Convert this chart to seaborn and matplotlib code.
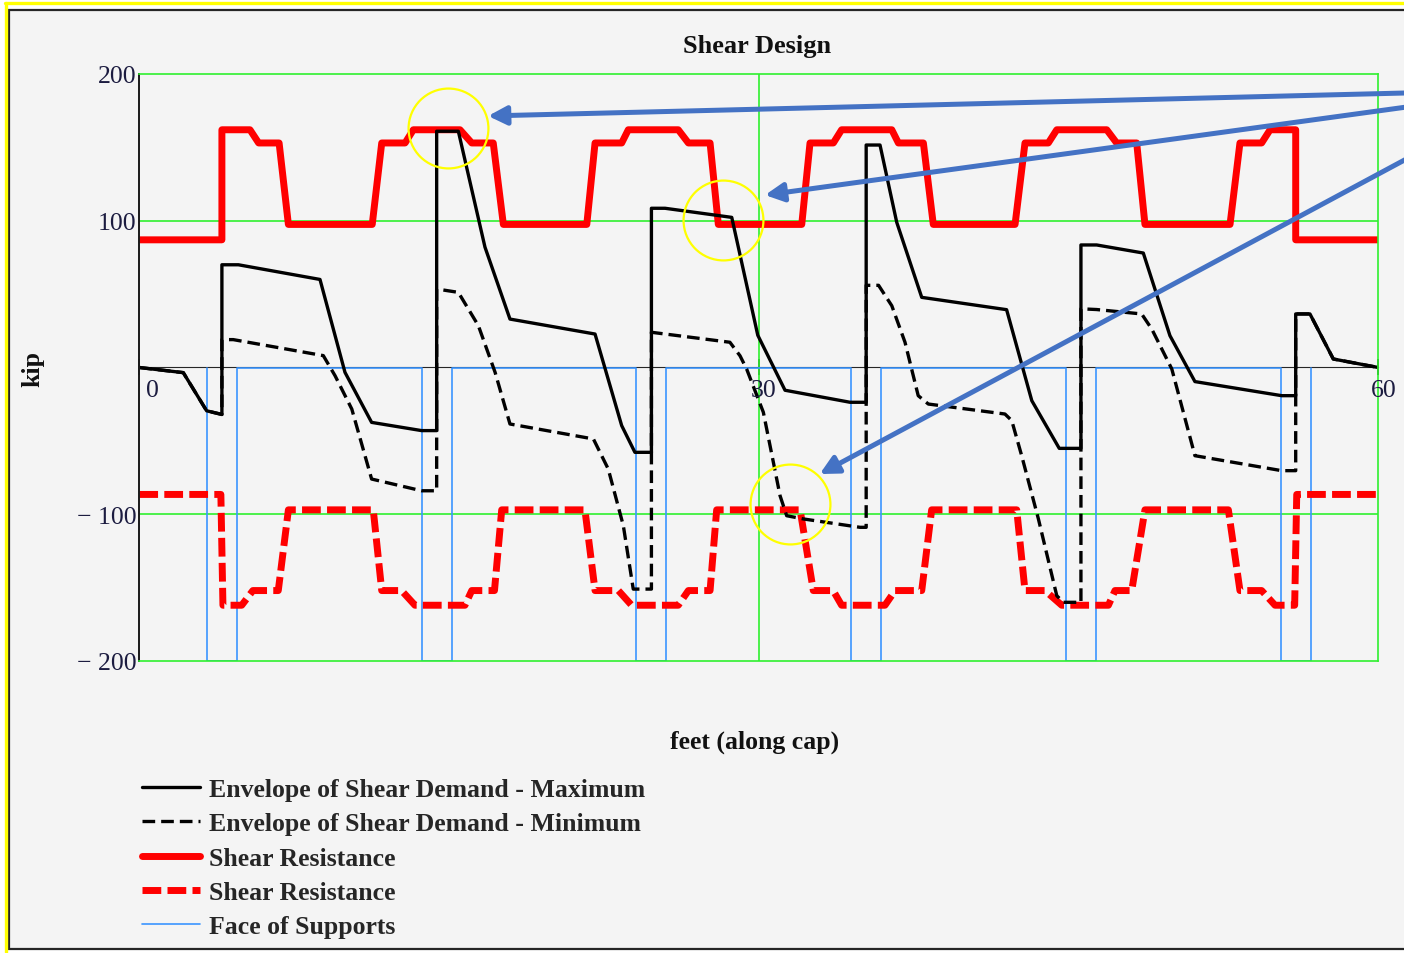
import matplotlib
matplotlib.use("Agg")
import matplotlib.pyplot as plt
import seaborn as sns
from matplotlib.patches import Rectangle
from matplotlib.lines import Line2D

# ---------------- data (feet along cap, kip) ----------------
# Shear resistance, positive side
resist_pos_x = [0, 4.0, 4.0, 5.36, 5.78, 6.77, 7.22, 11.28, 11.74, 12.87, 13.27, 15.53,
                16.10, 17.14, 17.63, 21.67, 22.07, 23.36, 23.68, 26.10, 26.59, 27.64,
                28.04, 32.08, 32.48, 33.61, 34.01, 36.44, 36.76, 37.97, 38.45, 42.41,
                42.89, 44.02, 44.43, 46.85, 47.33, 48.30, 48.70, 52.82, 53.30, 54.35,
                54.76, 56.0, 56.0, 60]
resist_pos = [87, 87, 162, 162, 153, 153, 97.5, 97.5, 153, 153, 162, 162,
              153, 153, 97.5, 97.5, 153, 153, 162, 162, 153, 153,
              97.5, 97.5, 153, 153, 162, 162, 153, 153, 97.5, 97.5,
              153, 153, 162, 162, 153, 153, 97.5, 97.5, 153, 153,
              162, 162, 87, 87]

# Shear resistance, negative side
resist_neg_x = [0, 3.95, 4.05, 4.96, 5.50, 6.73, 7.22, 11.33, 11.74, 12.70, 13.35, 15.77,
                16.10, 17.20, 17.55, 21.58, 22.07, 23.20, 23.84, 26.10, 26.59, 27.64,
                27.96, 32.00, 32.64, 33.60, 34.01, 36.11, 36.60, 37.89, 38.37, 42.49,
                42.89, 43.86, 44.67, 46.93, 47.25, 48.06, 48.70, 52.74, 53.30, 54.35,
                55.00, 55.95, 56.05, 60]
resist_neg = [-86.5, -86.5, -162, -162, -152, -152, -97, -97, -152, -152, -162, -162,
              -152, -152, -97, -97, -152, -152, -162, -162, -152, -152,
              -97, -97, -152, -152, -162, -162, -152, -152, -97, -97,
              -152, -152, -162, -162, -152, -152, -97, -97, -152, -152,
              -162, -162, -86.5, -86.5]

# Envelope of shear demand - maximum
vmax_x = [0, 2.13, 3.26, 4.0, 4.0, 4.8, 8.75, 9.96, 11.25, 13.67, 14.4, 14.4, 15.45,
          16.74, 17.95, 22.07, 23.36, 24.0, 24.8, 24.8, 25.46, 28.69, 29.95, 31.27,
          34.42, 35.2, 35.2, 35.87, 36.68, 37.89, 42.0, 43.22, 44.55, 45.6, 45.6,
          46.36, 48.62, 49.91, 51.12, 55.32, 56.0, 56.0, 56.69, 57.82, 60]
vmax = [0, -3.5, -29.5, -32, 70, 70, 60, -3.3, -37.4, -43, -43, 161, 161,
        82, 33, 22.8, -39.6, -57.8, -57.8, 108.5, 108.5, 102.3, 22, -15.5,
        -23.7, -23.7, 151.6, 151.6, 98.9, 47.8, 39.4, -22.6, -55.1, -55.1, 83.5,
        83.5, 78, 21.7, -9.6, -19.2, -19.2, 36.5, 36.5, 5.8, 0]

# Envelope of shear demand - minimum
vmin_x = [0, 2.13, 3.26, 4.0, 4.0, 4.55, 8.91, 9.48, 10.29, 11.25, 13.67, 14.4, 14.4,
          15.45, 16.42, 17.23, 17.95, 21.99, 22.71, 23.44, 23.92, 24.8, 24.8, 28.6,
          29.09, 29.41, 30.22, 31.03, 31.35, 32.16, 34.9, 35.2, 35.2, 35.8, 36.44,
          37.08, 37.72, 38.21, 41.92, 42.25, 42.73, 43.54, 44.43, 44.75, 45.6, 45.6,
          46.36, 48.54, 49.03, 50.0, 51.12, 55.32, 56.0, 56.0, 56.69, 57.82, 60]
vmin = [0, -3.5, -29.5, -32, 19, 19, 8.1, -5.6, -28.3, -76, -84, -84, 53.5,
        51.2, 28.5, -3.3, -38.5, -48.7, -69.2, -107.8, -151, -151, 24, 17.2,
        8.0, -1, -30.5, -87.4, -101, -103.2, -108.9, -108.9, 56, 56, 42.1,
        17.2, -19.2, -24.9, -31.7, -36.2, -60.1, -103.2, -155.5, -160, -160, 40,
        39.5, 36.5, 26.2, -1, -60.1, -70.3, -70.3, 36.5, 36.5, 5.8, 0]

# Faces of the six supports
face_left = [3.27, 13.67, 24.07, 34.47, 44.87, 55.27]
face_right = [4.73, 15.13, 25.53, 35.93, 46.33, 56.73]
face_depth = -200

x_ticks = [0, 30, 60]
y_ticks = [-200, -100, 100, 200]
y_tick_labels = ["\u2212 200", "\u2212 100", "100", "200"]

label_max = "Envelope of Shear Demand - Maximum"
label_min = "Envelope of Shear Demand - Minimum"
label_res = "Shear Resistance"
label_face = "Face of Supports"

# callout circles and arrow tips (feet, kip)
callout_x = [14.96, 28.28, 31.50]
callout_y = [163.3, 100.6, -92.7]
arrow_tip_x = [16.89, 30.30, 32.95]
arrow_tip_y = [171.4, 117.5, -72.6]

# ---------------- figure ----------------
sns.set_style("white")
plt.rcParams["font.family"] = ["Liberation Serif", "DejaVu Serif"]

W, H = 1404, 954
fig = plt.figure(figsize=(W / 100, H / 100), dpi=100)
fig.patch.set_facecolor("white")

# worksheet region frame and highlight edges
fig.add_artist(Rectangle((8.5 / W, 4 / H), (1430 - 8.5) / W, 939 / H,
                         transform=fig.transFigure, facecolor="#f4f4f4",
                         edgecolor="#262626", lw=1.6, zorder=-2))
fig.add_artist(Line2D([5 / W, 1], [950 / H, 950 / H], transform=fig.transFigure,
                      color="#ffff00", lw=2.4, zorder=-1))
fig.add_artist(Line2D([6 / W, 6 / W], [0, 950 / H], transform=fig.transFigure,
                      color="#ffff00", lw=2.4, zorder=-1))

ax = fig.add_axes([139.3 / W, (H - 662) / H, (1378.3 - 139.3) / W, (662 - 75) / H])
ax.set_facecolor("none")
ax.set_xlim(0, 60)
ax.set_ylim(-200, 200)

GREEN = "#2ef02e"
BLUE = "#3a95ff"

for side in ["top", "right", "bottom"]:
    ax.spines[side].set_color(GREEN)
    ax.spines[side].set_linewidth(1.2)
ax.spines["left"].set_color("#1a1a1a")
ax.spines["left"].set_linewidth(1.4)

ax.axhline(100, color=GREEN, lw=1.2, zorder=1.5)
ax.axhline(-100, color=GREEN, lw=1.2, zorder=1.5)
ax.axvline(30, color=GREEN, lw=1.2, zorder=1.5)

ax.set_xticks([])
ax.set_yticks(y_ticks, y_tick_labels)
ax.tick_params(axis="y", direction="inout", length=9, width=1.2, pad=-2.5,
               labelsize=18.5, labelcolor="#1c1c40", color="#1a1a1a")

# x axis drawn through zero
sec = ax.secondary_xaxis(0.5)
sec.spines["bottom"].set_color("#1a1a1a")
sec.spines["bottom"].set_linewidth(1.2)
sec.set_xticks(x_ticks, ["" for _ in x_ticks])
sec.tick_params(axis="x", direction="inout", length=11, width=1.2, color="#1a1a1a")
for v in x_ticks:
    dx = 13 if v == 0 else 5
    ax.annotate(f"{v}", xy=(v, 0), xytext=(dx, -23), textcoords="offset pixels",
                ha="center", va="center", fontsize=18.5, color="#1c1c40")

# ---------------- series ----------------
face_trace_x = [v for a, b in zip(face_left, face_right) for v in (a, a, b, b)]
face_trace_y = [v for _ in face_left for v in (0, face_depth, face_depth, 0)]

line_face = sns.lineplot(x=face_trace_x, y=face_trace_y, sort=False, estimator=None,
                         ax=ax, color=BLUE, lw=1.2, legend=False, zorder=2.1).lines[-1]
line_res = sns.lineplot(x=resist_pos_x, y=resist_pos, sort=False, estimator=None, ax=ax,
                        color="#ff0000", lw=5.0, legend=False, zorder=2.2).lines[-1]
line_res_neg = sns.lineplot(x=resist_neg_x, y=resist_neg, sort=False, estimator=None,
                            ax=ax, color="#ff0000", lw=5.0, linestyle=(0, (2.7, 0.9)),
                            legend=False, zorder=2.2).lines[-1]
line_min = sns.lineplot(x=vmin_x, y=vmin, sort=False, estimator=None, ax=ax,
                        color="black", lw=2.4, linestyle=(0, (3.8, 1.8)),
                        legend=False, zorder=2.3).lines[-1]
line_max = sns.lineplot(x=vmax_x, y=vmax, sort=False, estimator=None, ax=ax,
                        color="black", lw=2.4, legend=False, zorder=2.4).lines[-1]

# ---------------- callouts ----------------
ax.plot(callout_x, callout_y, ls="none", marker="o", ms=57.5, mfc="none",
        mec="#ffff00", mew=1.6, clip_on=False, zorder=4)
tails = [(1425, H - 93.5), (1425, H - 105.5), (1425, H - 150.0)]
for tx, ty, tail in zip(arrow_tip_x, arrow_tip_y, tails):
    ax.annotate("", xy=(tx, ty), xycoords="data", xytext=tail,
                textcoords="figure pixels", annotation_clip=False,
                arrowprops=dict(arrowstyle="-|>,head_length=0.55,head_width=0.28",
                                mutation_scale=20, color="#4472c4", lw=3.6,
                                shrinkA=0, shrinkB=0), zorder=5)

# ---------------- text ----------------
fig.text(757 / W, (H - 46) / H, "Shear Design", ha="center", va="center",
         fontsize=19, fontweight="bold", color="#111111")
fig.text(755 / W, (H - 742) / H, "feet (along cap)", ha="center", va="center",
         fontsize=18.5, fontweight="bold", color="#111111")
fig.text(33 / W, (H - 369) / H, "kip", ha="center", va="center", rotation=90,
         fontsize=18.5, fontweight="bold", color="#111111")

fig.legend([line_max, line_min, line_res, line_res_neg, line_face],
           [label_max, label_min, label_res, label_res, label_face],
           loc="upper left", bbox_to_anchor=(142 / W, (H - 779) / H),
           frameon=False, handlelength=2.25, handletextpad=0.35,
           labelspacing=0.44, borderpad=0, borderaxespad=0,
           prop=dict(weight="bold", size=18.5))

fig.savefig("out.png", dpi=100)
